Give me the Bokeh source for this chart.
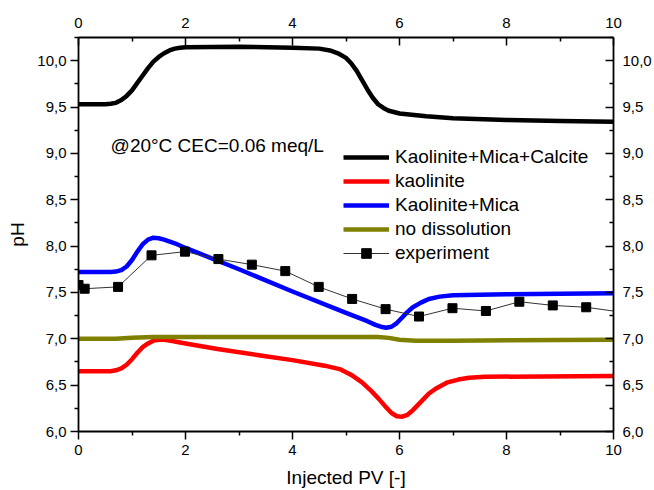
from bokeh.plotting import figure
from bokeh.models import (Legend, LegendItem, LinearAxis, FixedTicker,
                          CustomJSTickFormatter, Label, Range1d)
from bokeh.embed import file_html
from bokeh.resources import INLINE

# ---- data ----
calcite_x = [0, 0.5, 0.6, 0.7, 0.8, 0.9, 1.0, 1.1, 1.2, 1.3, 1.4, 1.5, 1.6, 1.7, 1.8, 1.9, 2.0,
             3.0, 4.0, 4.5, 4.7, 4.85, 5.0, 5.1, 5.2, 5.3, 5.4, 5.5, 5.6, 5.7, 5.8, 6.0, 6.5, 7.0,
             8.0, 9.0, 10.0]
calcite_y = [9.53, 9.53, 9.535, 9.545, 9.575, 9.62, 9.68, 9.76, 9.84, 9.92, 9.99, 10.04, 10.08,
             10.11, 10.13, 10.14, 10.145, 10.15, 10.14, 10.13, 10.11, 10.08, 10.03, 9.97, 9.89,
             9.79, 9.69, 9.60, 9.53, 9.49, 9.46, 9.43, 9.40, 9.38, 9.36, 9.35, 9.34]

kaol_x = [0, 0.6, 0.7, 0.8, 0.9, 1.0, 1.1, 1.2, 1.3, 1.4, 1.5, 1.6, 1.7, 1.8, 2.0, 2.6, 3.4, 4.0,
          4.6, 4.9, 5.1, 5.3, 5.45, 5.6, 5.75, 5.85, 5.95, 6.05, 6.15, 6.25, 6.4, 6.55, 6.7, 6.9,
          7.1, 7.3, 7.6, 10.0]
kaol_y = [6.65, 6.65, 6.66, 6.68, 6.72, 6.78, 6.85, 6.91, 6.95, 6.98, 6.99, 6.99, 6.98, 6.97,
          6.95, 6.89, 6.82, 6.77, 6.71, 6.67, 6.61, 6.53, 6.45, 6.36, 6.26, 6.20, 6.165, 6.16,
          6.18, 6.23, 6.32, 6.41, 6.47, 6.53, 6.56, 6.58, 6.59, 6.60]

mica_x = [0, 0.6, 0.7, 0.8, 0.9, 1.0, 1.1, 1.2, 1.3, 1.4, 1.5, 1.6, 1.8, 2.0, 3.0, 4.0, 5.0, 5.4,
          5.55, 5.65, 5.75, 5.85, 5.95, 6.05, 6.15, 6.25, 6.4, 6.55, 6.75, 7.0, 8.0, 10.0]
mica_y = [7.72, 7.72, 7.725, 7.74, 7.78, 7.85, 7.94, 8.02, 8.07, 8.09, 8.085, 8.07, 8.03, 7.98,
          7.75, 7.51, 7.28, 7.19, 7.15, 7.13, 7.12, 7.13, 7.17, 7.23, 7.29, 7.34, 7.39, 7.43,
          7.455, 7.47, 7.48, 7.49]

nodiss_x = [0, 0.7, 1.0, 1.4, 5.6, 5.8, 6.0, 6.3, 7.0, 10.0]
nodiss_y = [7.00, 7.00, 7.01, 7.02, 7.02, 7.01, 6.99, 6.98, 6.98, 6.99]

exp_x = [0.0, 0.115, 0.74, 1.365, 1.99, 2.615, 3.24, 3.865, 4.49, 5.115, 5.74, 6.365, 6.99,
         7.615, 8.24, 8.865, 9.49, 10.115]
exp_y = [7.58, 7.54, 7.56, 7.90, 7.94, 7.86, 7.80, 7.73, 7.56, 7.43, 7.32, 7.24, 7.33, 7.30,
         7.40, 7.36, 7.34, 7.29]

x_ticks = [0, 2, 4, 6, 8, 10]
x_minor = [1, 3, 5, 7, 9]
y_ticks = [6.0, 6.5, 7.0, 7.5, 8.0, 8.5, 9.0, 9.5, 10.0]
y_minor = [6.25, 6.75, 7.25, 7.75, 8.25, 8.75, 9.25, 9.75, 10.25]

series_labels = ["Kaolinite+Mica+Calcite", "kaolinite", "Kaolinite+Mica", "no dissolution", "experiment"]
note = "@20°C CEC=0.06 meq/L"

FONT = "Liberation Sans"

p = figure(frame_width=535, frame_height=394,
           x_range=Range1d(0, 10), y_range=Range1d(6.0, 10.25),
           output_backend="svg", toolbar_location=None,
           min_border_left=78, min_border_right=38, min_border_top=37, min_border_bottom=50)
p.xgrid.visible = False
p.ygrid.visible = False
p.outline_line_color = None

r_cal = p.line(calcite_x, calcite_y, line_color="black", line_width=4.5, line_join="round")
r_kao = p.line(kaol_x, kaol_y, line_color="#ff0000", line_width=4.5, line_join="round")
r_mic = p.line(mica_x, mica_y, line_color="#0000ff", line_width=4.5, line_join="round")
r_nod = p.line(nodiss_x, nodiss_y, line_color="#808000", line_width=4.5, line_join="round")
r_expl = p.line(exp_x, exp_y, line_color="#333333", line_width=1)
r_exps = p.scatter(exp_x, exp_y, marker="square", size=9, fill_color="black", line_color="black")

yfmt = CustomJSTickFormatter(code="return tick.toFixed(1).replace('.', ',');")

def style(ax, inside):
    ax.axis_line_width = 1.8
    ax.axis_line_color = "black"
    ax.major_tick_line_width = 1.5
    ax.minor_tick_line_width = 1.5
    ax.major_tick_line_color = "black"
    ax.minor_tick_line_color = "black"
    if inside:
        ax.major_tick_in, ax.major_tick_out = 8, 0
        ax.minor_tick_in, ax.minor_tick_out = 4, 0
    else:
        ax.major_tick_in, ax.major_tick_out = 0, 8
        ax.minor_tick_in, ax.minor_tick_out = 0, 4
    ax.major_label_text_font = FONT
    ax.major_label_text_font_size = "15px"
    ax.major_label_text_color = "black"
    ax.axis_label_text_font = FONT
    ax.axis_label_text_font_size = "19px"
    ax.axis_label_text_font_style = "normal"
    ax.axis_label_text_color = "black"

xb = p.xaxis[0]
xb.ticker = FixedTicker(ticks=x_ticks, minor_ticks=x_minor)
xb.axis_label = "Injected PV [-]"
style(xb, False)
xb.major_label_standoff = 5
xb.axis_label_standoff = 9

yl = p.yaxis[0]
yl.ticker = FixedTicker(ticks=y_ticks, minor_ticks=y_minor)
yl.formatter = yfmt
yl.axis_label = "pH"
style(yl, False)
yl.major_label_standoff = 4
yl.axis_label_standoff = 6

xt = LinearAxis(ticker=FixedTicker(ticks=x_ticks, minor_ticks=x_minor))
style(xt, True)
xt.major_label_standoff = 10
p.add_layout(xt, "above")

yr = LinearAxis(ticker=FixedTicker(ticks=y_ticks, minor_ticks=y_minor), formatter=yfmt)
style(yr, True)
yr.major_label_standoff = 9
p.add_layout(yr, "right")

legend = Legend(items=[
    LegendItem(label=series_labels[0], renderers=[r_cal]),
    LegendItem(label=series_labels[1], renderers=[r_kao]),
    LegendItem(label=series_labels[2], renderers=[r_mic]),
    LegendItem(label=series_labels[3], renderers=[r_nod]),
    LegendItem(label=series_labels[4], renderers=[r_expl, r_exps]),
], location=(265, 166))
legend.border_line_color = None
legend.background_fill_alpha = 0
legend.padding = 0
legend.margin = 0
legend.spacing = 0
legend.glyph_width = 46
legend.glyph_height = 24
legend.label_height = 24
legend.label_standoff = 6
legend.label_text_font = FONT
legend.label_text_font_size = "19px"
legend.label_text_color = "black"
p.add_layout(legend, "center")

p.add_layout(Label(x=0.60, y=9.08, text=note, text_font=FONT, text_font_size="19px",
                   text_color="black", text_baseline="alphabetic"))

open("out.html", "w").write(file_html(p, INLINE))
